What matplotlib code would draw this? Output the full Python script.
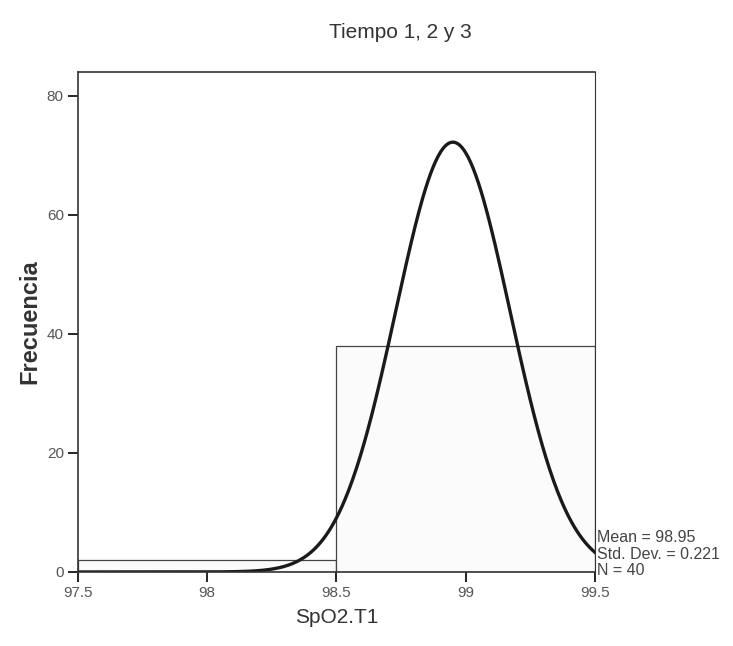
import matplotlib.pyplot as plt
import numpy as np

bin_edges = [97.5, 98.5, 99.5]
counts = [2, 38]
mean = 98.95
std_dev = 0.221
n = 40
xticks = [97.5, 98, 98.5, 99, 99.5]
xtick_labels = ["97.5", "98", "98.5", "99", "99.5"]
yticks = [0, 20, 40, 60, 80]


def main():
	plt.rcParams['font.family'] = ['Liberation Sans', 'DejaVu Sans']
	fig = plt.figure(figsize=(7.33, 6.46), dpi=100)
	ax = fig.add_axes([0.106, 0.1146, 0.706, 0.774])
	widths = np.diff(bin_edges)
	ax.bar(bin_edges[:-1], counts, width=widths, align='edge', color='#fbfbfb', edgecolor='#444444', linewidth=0.9)
	# fitted normal curve scaled to counts
	xs = np.linspace(bin_edges[0], bin_edges[-1], 400)
	ys = n * widths[0] / (std_dev * np.sqrt(2 * np.pi)) * np.exp(-0.5 * ((xs - mean) / std_dev) ** 2)
	ax.plot(xs, ys, color='#1a1a1a', linewidth=2.4)
	ax.set_xlim(bin_edges[0], bin_edges[-1])
	ax.set_ylim(0, 84)
	ax.set_xticks(xticks)
	ax.set_xticklabels(xtick_labels)
	ax.set_yticks(yticks)
	ax.tick_params(direction='out', length=7, width=1.2, labelsize=11, labelcolor='#555555', pad=3)
	for s in ax.spines.values():
		s.set_linewidth(1.2)
		s.set_color('#333333')
	ax.spines['right'].set_linewidth(0.8)
	ax.set_xlabel('SpO2.T1', fontsize=15, color='#333333', labelpad=6)
	ax.set_ylabel('Frecuencia', fontsize=17, fontweight='bold', color='#333333', labelpad=4)
	fig.text(400 / 733, 1 - 32 / 646, 'Tiempo 1, 2 y 3', ha='center', va='center', fontsize=15, color='#333333')
	stats = ['Mean = %.2f' % mean, 'Std. Dev. = %.3f' % std_dev, 'N = %d' % n]
	for i, t in enumerate(stats):
		ax.text(1.003, 0.068 - i * 0.033, t, transform=ax.transAxes, fontsize=11.5, color='#444444', ha='left', va='center')
	fig.savefig('out.png', dpi=100)


if __name__ == "__main__":
	main()
